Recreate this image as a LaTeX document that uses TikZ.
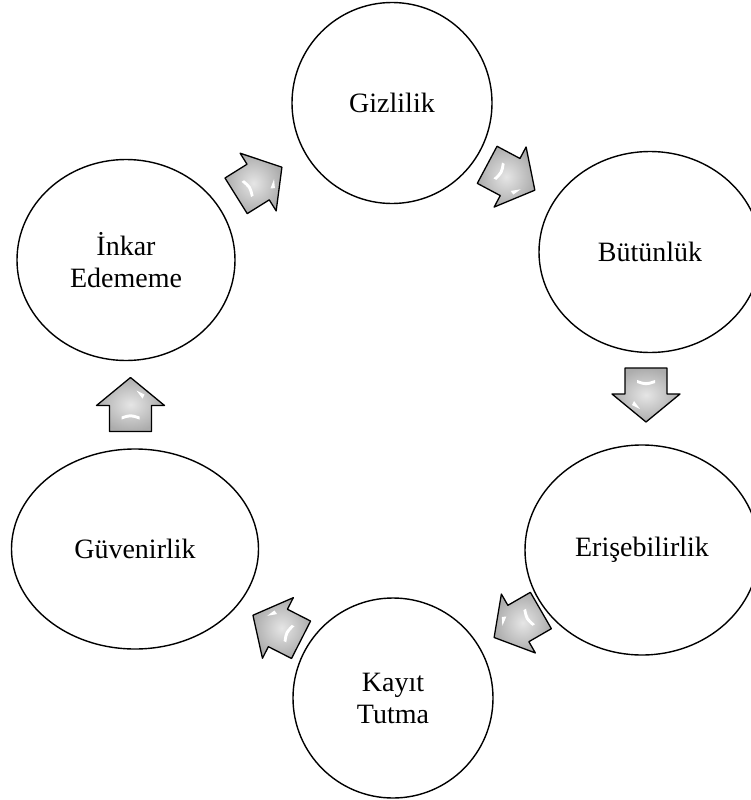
\documentclass[tikz,border=0pt]{standalone}
\usepackage{fontspec}
\setmainfont{Liberation Serif}
\usetikzlibrary{shapes.geometric,calc}
\begin{document}
\begin{tikzpicture}[x=1pt,y=-1pt,
  circ/.style={ellipse,draw=black,line width=1.4pt,fill=white,inner sep=0pt,align=center,font=\fontsize{28}{32}\selectfont},
  arrowbody/.style={draw=black,line width=1.3pt,line join=round,inner color=gray!20,outer color=gray!65},
  blockarrow/.pic={
    \path[arrowbody] (-27,21) -- (-1,21) -- (-1,34) -- (27,0) -- (-1,-34) -- (-1,-21) -- (-27,-21) -- cycle;
    \fill[white] (-15,-9) .. controls (-12,0) .. (-15,9) -- (-12,9) .. controls (-9,0) .. (-12,-9) -- cycle;
    \fill[white] (6,12) -- (14,6) -- (10,14) -- cycle;
  }]
\useasboundingbox (0,0) rectangle (751,800);
\fill[white] (0,0) rectangle (751,800);
\node[circ,minimum width=200pt,minimum height=201pt] (giz) at (392,103) {Gizlilik};
\node[circ,minimum width=222pt,minimum height=201pt] (but) at (650,252) {Bütünlük};
\node[circ,minimum width=234pt,minimum height=210pt] (eri) at (642,550) {Erişebilirlik};
\node[circ,minimum width=200pt,minimum height=200pt] (kay) at (393,698) {Kayıt\\Tutma};
\node[circ,minimum width=247pt,minimum height=200pt] (guv) at (135,549) {Güvenirlik};
\node[circ,minimum width=218pt,minimum height=201pt] (ink) at (126,260) {İnkar\\Edememe};
\pic[rotate=32] at ($(ink)!0.5!(giz)$) {blockarrow};
\pic[rotate=-28] at ($(giz)!0.5!(but)+(-10,0)$) {blockarrow};
\pic[rotate=-90] at ($(but)!0.5!(eri)+(0,-6)$) {blockarrow};
\pic[rotate=-150] at ($(eri)!0.5!(kay)$) {blockarrow};
\pic[rotate=153] at ($(kay)!0.5!(guv)+(13,4)$) {blockarrow};
\pic[rotate=90] at ($(guv)!0.5!(ink)$) {blockarrow};
\end{tikzpicture}
\end{document}
